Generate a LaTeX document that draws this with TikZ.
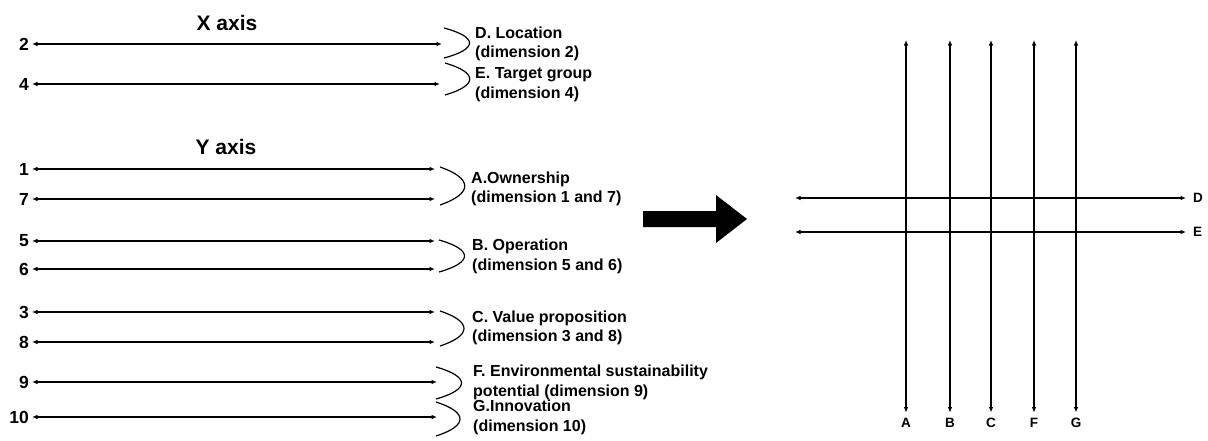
\documentclass[tikz,border=0pt]{standalone}
\usepackage{fontspec}
\setmainfont{Liberation Sans}
\usetikzlibrary{positioning, arrows.meta}

\begin{document}
\begin{tikzpicture}[x=1pt, y=-1pt,
    dimarrow/.style={{Latex[length=5.5pt,width=4.5pt]}-{Latex[length=5.5pt,width=4.5pt]}, line width=1.2pt},
    numlabel/.style={font=\fontsize{17.5}{20}\selectfont\bfseries, anchor=east, inner sep=3pt},
    axistitle/.style={font=\fontsize{21}{24}\selectfont\bfseries},
    grouplabel/.style={font=\fontsize{16}{19.5}\selectfont\bfseries, anchor=west, align=left, inner sep=0pt},
    brace/.style={line width=1.2pt},
    gridlabel/.style={font=\fontsize{13.5}{15}\selectfont\bfseries, inner sep=2pt}]
    \useasboundingbox (0,0) rectangle (1208,440);

    % left side: the two axes and their dimensions
    \node[axistitle] (xaxis) at (227,23) {X axis};
    \node[axistitle] (yaxis) at (226,147) {Y axis};

    \foreach \n/\y/\xe in {2/44/442, 4/84/440, 1/169/435, 7/199/435, 5/241/435, 6/269/435, 3/312/435, 8/342/435, 9/382/437, 10/417/437} {
        \node[numlabel] (n\n) at (32,\y) {\n};
        \coordinate (e\n) at (\xe,\y);
        \draw[dimarrow] (n\n) -- (e\n);
    }

    % braces grouping the dimensions
    \foreach \xa/\ya/\yb/\xc in {444/28/58/478, 445/63/95/478, 440/167/205/473, 439/240/272/473, 440/311/346/472, 436/367/399/470, 436/402/436/468}
        \draw[brace] (\xa,\ya) .. controls (\xc,{\ya+0.3*(\yb-\ya)}) and (\xc,{\yb-0.3*(\yb-\ya)}) .. (\xa,\yb);

    \node[grouplabel] (gD) at (475,44) {D. Location\\(dimension 2)};
    \node[grouplabel] (gE) at (475,84.5) {E. Target group\\(dimension 4)};
    \node[grouplabel] (gA) at (471,189) {A.Ownership\\(dimension 1 and 7)};
    \node[grouplabel] (gB) at (472,256.5) {B. Operation\\(dimension 5 and 6)};
    \node[grouplabel] (gC) at (472,328) {C. Value proposition\\(dimension 3 and 8)};
    \node[grouplabel] (gF) at (473,382.5) {F. Environmental sustainability\\potential (dimension 9)};
    \node[grouplabel] (gG) at (473,417.5) {G.Innovation\\(dimension 10)};

    % big arrow
    \fill (643,211) -- (716,211) -- (716,195) -- (747,219) -- (716,243) -- (716,227) -- (643,227) -- cycle;

    % right side: the grid
    \foreach \l/\x in {A/906, B/950, C/991, F/1034, G/1076} {
        \coordinate (t\l) at (\x,40);
        \node[gridlabel] (l\l) at (\x,423) {\l};
        \draw[dimarrow, shorten >=3.5pt] (t\l) -- (l\l.north);
    }
    \foreach \l/\y in {D/198, E/232} {
        \coordinate (s\l) at (795,\y);
        \node[gridlabel, anchor=west] (l\l) at (1191,\y) {\l};
        \draw[dimarrow, shorten >=5pt] (s\l) -- (l\l.west);
    }
\end{tikzpicture}
\end{document}
